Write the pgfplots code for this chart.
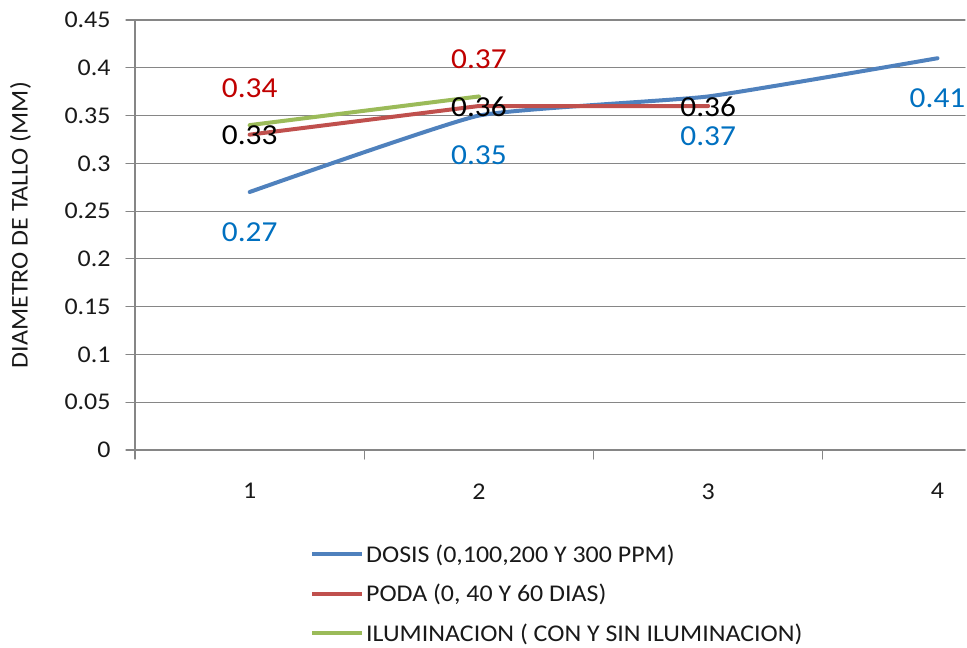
\documentclass[border=0pt]{standalone}
\usepackage{fontspec}
\setmainfont{Carlito}[FakeStretch=1.08]
\usepackage{pgfplots}
\pgfplotsset{compat=1.18}

\definecolor{serieA}{HTML}{4F81BD}
\definecolor{serieB}{HTML}{C0504D}
\definecolor{serieC}{HTML}{9BBB59}
\definecolor{lblblue}{HTML}{0070C0}
\definecolor{lblred}{HTML}{C00000}
\definecolor{gridgray}{HTML}{868686}

\newcommand\smalltxt{\fontsize{24}{28}\selectfont}
\newcommand\datatxt{\fontsize{29}{34}\selectfont}

\begin{document}
\begin{tikzpicture}
\begin{axis}[
  at={(135pt,-450pt)}, anchor=south west,
  scale only axis, width=830pt, height=430pt,
  xmin=0.5, xmax=4.12, ymin=0, ymax=0.45,
  axis x line*=bottom, axis y line*=left,
  axis line style={gridgray, line width=1.2pt},
  /pgf/number format/assume math mode=true,
  xtick={1,2,3,4},
  minor xtick={0.5,1.5,2.5,3.5},
  major x tick style={draw=none},
  minor x tick style={gridgray, line width=1.2pt},
  y tick style={gridgray, line width=1.2pt},
  tick align=outside,
  major tick length=9pt, minor tick length=9pt,
  ytick={0,0.05,0.1,0.15,0.2,0.25,0.3,0.35,0.4,0.45},
  yticklabels={0,0.05,0.1,0.15,0.2,0.25,0.3,0.35,0.4,0.45},
  ymajorgrids,
  major grid style={gridgray, line width=1.2pt},
  tick label style={font=\smalltxt, text=black!90},
  xticklabel style={yshift=-21pt},
  yticklabel style={xshift=-12pt},
  every axis y label/.style={at={(axis description cs:-0.138,0.523)}, rotate=90, anchor=center, font=\smalltxt, text=black!90},
  ylabel={DIAMETRO DE TALLO (MM)},
  legend style={at={(axis description cs:0.2108,-0.215)}, anchor=north west,
    draw=none, fill=none, font=\smalltxt, text=black!90, inner sep=0pt,
    row sep=16.5pt, legend cell align=left},
  legend image code/.code={\draw[#1] (0pt,0pt) -- (50pt,0pt);},
  line join=round, line cap=round,
]
% dosis
\addplot[serieA, line width=4pt, smooth, tension=0.25,
  nodes near coords={\pgfmathprintnumber[assume math mode=true]{\pgfplotspointmeta}},
  every node near coord/.append style={anchor=center, yshift=-40pt, text=lblblue, font=\datatxt}]
  coordinates {(1,0.27) (2,0.35) (3,0.37) (4,0.41)};
\addlegendentry{DOSIS (0,100,200 Y 300 PPM)}
% poda
\addplot[serieB, line width=4pt,
  nodes near coords={\pgfmathprintnumber[assume math mode=true]{\pgfplotspointmeta}},
  every node near coord/.append style={anchor=center, yshift=-1pt, text=black, font=\datatxt}]
  coordinates {(1,0.33) (2,0.36) (3,0.36)};
\addlegendentry{PODA (0, 40 Y 60 DIAS)}
% iluminacion
\addplot[serieC, line width=4pt,
  nodes near coords={\pgfmathprintnumber[assume math mode=true]{\pgfplotspointmeta}},
  every node near coord/.append style={anchor=center, yshift=37pt, text=lblred, font=\datatxt}]
  coordinates {(1,0.34) (2,0.37)};
\addlegendentry{ILUMINACION ( CON Y SIN ILUMINACION)}
\end{axis}
\pgfresetboundingbox
\useasboundingbox (0,0) rectangle (967pt,-648pt);
\end{tikzpicture}
\end{document}
